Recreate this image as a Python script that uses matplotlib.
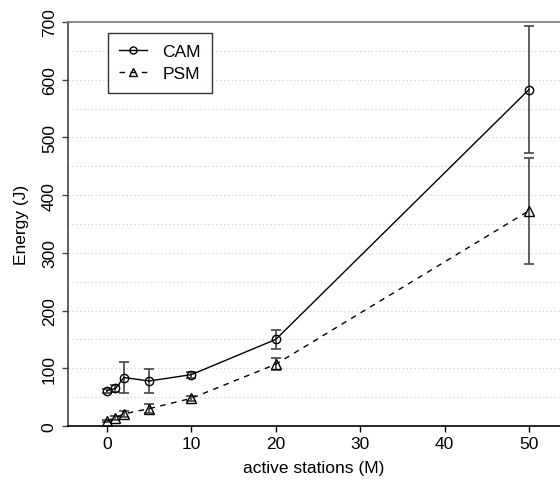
import matplotlib
matplotlib.use("Agg")
import matplotlib.pyplot as plt
import numpy as np

plt.rcParams['font.family'] = ['Liberation Sans', 'DejaVu Sans']

stations = [0, 1, 2, 5, 10, 20, 50]
cam = [61, 65, 84, 78, 89, 150, 583]
cam_err = [3, 6, 27, 20, 5, 17, 110]
psm = [9, 14, 21, 30, 48, 107, 373]
psm_err = [2, 3, 5, 8, 4, 10, 92]

fig = plt.figure(figsize=(5.6, 4.85), dpi=100)
ax = fig.add_axes([0.1214, 0.1196, 0.8786, 0.833])

# dotted horizontal grid every 50
for g in np.arange(50, 700, 50):
    ax.axhline(g, color="#cccccc", linestyle=(0, (1, 2.5)), linewidth=0.8, zorder=0)

ax.errorbar(stations, cam, yerr=cam_err, fmt="none", ecolor="#444444",
            elinewidth=1.2, capsize=3.5, capthick=1.2, zorder=2)
ax.errorbar(stations, psm, yerr=psm_err, fmt="none", ecolor="#444444",
            elinewidth=1.2, capsize=3.5, capthick=1.2, zorder=2)

ax.plot(stations, cam, color="black", linewidth=1, linestyle="-",
        marker="o", markersize=6, markerfacecolor="none", markeredgewidth=1,
        label="CAM", zorder=3)
ax.plot(stations, psm, color="black", linewidth=1, linestyle=(0, (4, 4)),
        marker="^", markersize=6.5, markerfacecolor="none", markeredgewidth=1,
        label="PSM", zorder=3)

ax.set_xlim(-4.62, 53.67)
ax.set_ylim(0, 700)
ax.set_xticks([0, 10, 20, 30, 40, 50])
ax.set_yticks([0, 100, 200, 300, 400, 500, 600, 700])
ax.set_yticklabels(["0", "100", "200", "300", "400", "500", "600", "700"],
                   rotation=90, va="center")
ax.tick_params(axis="both", labelsize=12.5, direction="out", length=4, width=1)
ax.tick_params(axis="y", pad=4, color="#444444")

ax.spines["right"].set_visible(False)
ax.spines["top"].set_color("#777777")
ax.spines["left"].set_color("#444444")
ax.spines["bottom"].set_color("black")
for s in ax.spines.values():
    s.set_linewidth(1.2)

ax.set_xlabel("active stations (M)", fontsize=12.5, labelpad=6)
ax.set_ylabel("Energy (J)", fontsize=12.5, labelpad=9)

leg = ax.legend(loc="upper left", bbox_to_anchor=(0.081, 0.973), borderaxespad=0,
                fontsize=12.5, frameon=True, fancybox=False, edgecolor="black",
                handlelength=1.6, handletextpad=0.9, borderpad=0.65,
                labelspacing=0.4, markerscale=0.85)
leg.get_frame().set_linewidth(1)

fig.savefig("out.png", dpi=100)
